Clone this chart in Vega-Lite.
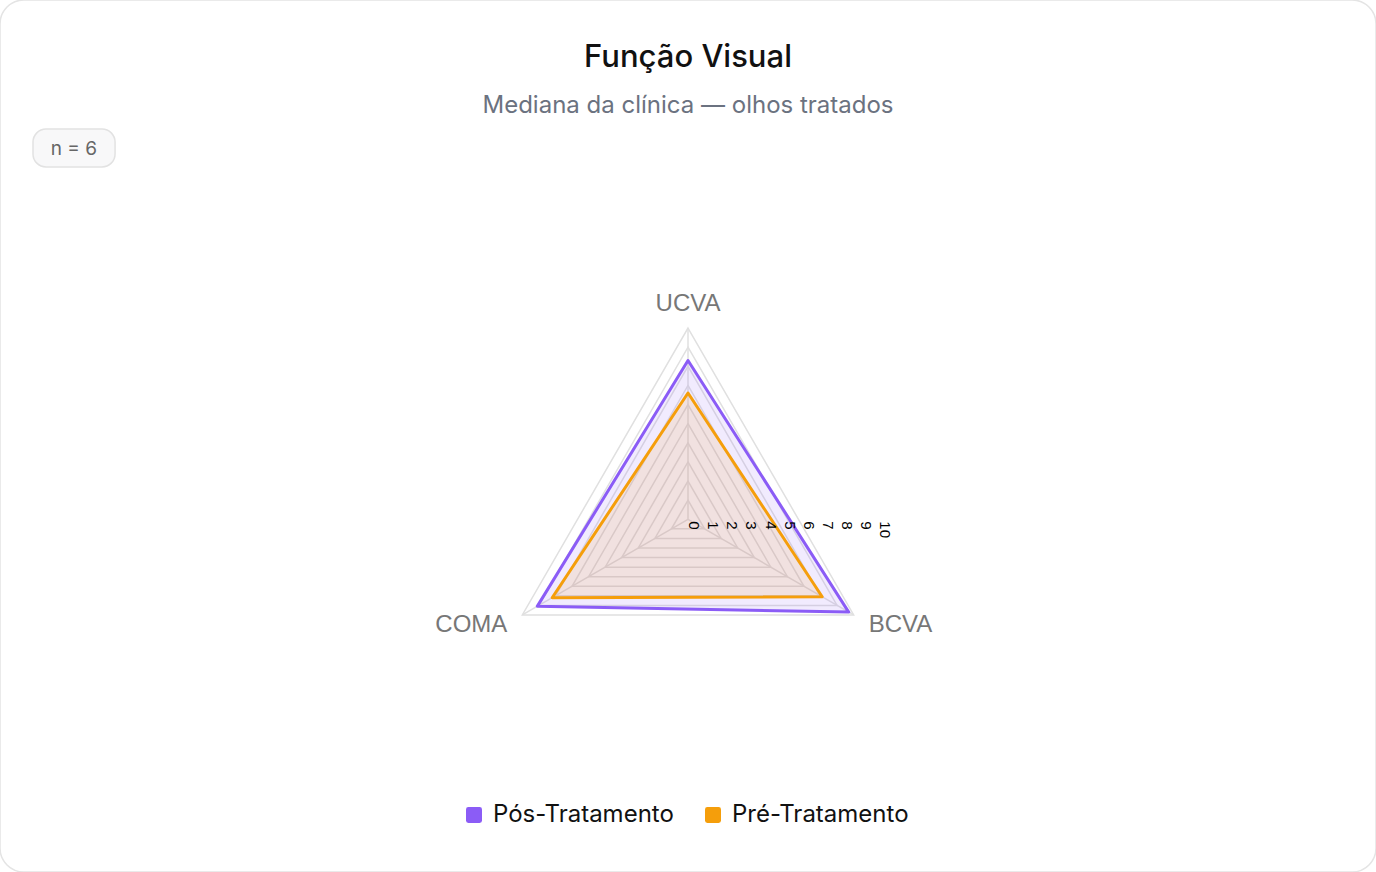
{
  "$schema": "https://vega.github.io/schema/vega-lite/v6.json",
  "description": "Radar chart of visual function, pre vs post treatment.",
  "width": 1376,
  "height": 872,
  "autosize": "none",
  "padding": 0,
  "background": "white",
  "view": {"stroke": "#e4e4e4", "strokeWidth": 1.5, "cornerRadius": 24, "fill": "white"},
  "title": {
    "text": "Função Visual",
    "subtitle": "Mediana da clínica — olhos tratados",
    "anchor": "middle",
    "frame": "group",
    "offset": -119,
    "font": "Inter",
    "fontSize": 31,
    "fontWeight": 500,
    "color": "#111111",
    "subtitleFont": "Inter",
    "subtitleFontSize": 24,
    "subtitleColor": "#6b7280",
    "subtitlePadding": 20
  },
  "datasets": {
    "radar": [
      {"series": "Pós-Tratamento", "axis": "UCVA", "value": 8.3},
      {"series": "Pós-Tratamento", "axis": "BCVA", "value": 9.7},
      {"series": "Pós-Tratamento", "axis": "COMA", "value": 9.1},
      {"series": "Pré-Tratamento", "axis": "UCVA", "value": 6.6},
      {"series": "Pré-Tratamento", "axis": "BCVA", "value": 8.1},
      {"series": "Pré-Tratamento", "axis": "COMA", "value": 8.2}
    ],
    "grid": [
      {"level": 1, "axis": "UCVA"}, {"level": 1, "axis": "BCVA"}, {"level": 1, "axis": "COMA"},
      {"level": 2, "axis": "UCVA"}, {"level": 2, "axis": "BCVA"}, {"level": 2, "axis": "COMA"},
      {"level": 3, "axis": "UCVA"}, {"level": 3, "axis": "BCVA"}, {"level": 3, "axis": "COMA"},
      {"level": 4, "axis": "UCVA"}, {"level": 4, "axis": "BCVA"}, {"level": 4, "axis": "COMA"},
      {"level": 5, "axis": "UCVA"}, {"level": 5, "axis": "BCVA"}, {"level": 5, "axis": "COMA"},
      {"level": 6, "axis": "UCVA"}, {"level": 6, "axis": "BCVA"}, {"level": 6, "axis": "COMA"},
      {"level": 7, "axis": "UCVA"}, {"level": 7, "axis": "BCVA"}, {"level": 7, "axis": "COMA"},
      {"level": 8, "axis": "UCVA"}, {"level": 8, "axis": "BCVA"}, {"level": 8, "axis": "COMA"},
      {"level": 9, "axis": "UCVA"}, {"level": 9, "axis": "BCVA"}, {"level": 9, "axis": "COMA"},
      {"level": 10, "axis": "UCVA"}, {"level": 10, "axis": "BCVA"}, {"level": 10, "axis": "COMA"}
    ],
    "ticks": [
      {"tick": 0}, {"tick": 1}, {"tick": 2}, {"tick": 3}, {"tick": 4}, {"tick": 5},
      {"tick": 6}, {"tick": 7}, {"tick": 8}, {"tick": 9}, {"tick": 10}
    ],
    "badge": [{"label": "n = 6"}]
  },
  "layer": [
    {
      "data": {"name": "grid"},
      "transform": [
        {"calculate": "indexof(['UCVA','BCVA','COMA'], datum.axis) * 2 * PI / 3", "as": "ang"},
        {"calculate": "datum.level * sin(datum.ang)", "as": "px"},
        {"calculate": "datum.level * cos(datum.ang)", "as": "py"}
      ],
      "mark": {"type": "line", "interpolate": "linear-closed", "stroke": "#e0e0e0", "strokeWidth": 1.5},
      "encoding": {
        "x": {"field": "px", "type": "quantitative", "scale": {"domain": [-35.965, 35.965], "nice": false, "zero": false}, "axis": null},
        "y": {"field": "py", "type": "quantitative", "scale": {"domain": [-18.437, 27.146], "nice": false, "zero": false}, "axis": null},
        "detail": {"field": "level", "type": "nominal"},
        "order": {"field": "ang", "type": "quantitative"}
      }
    },
    {
      "data": {"name": "grid"},
      "transform": [
        {"filter": "datum.level == 10"},
        {"calculate": "indexof(['UCVA','BCVA','COMA'], datum.axis) * 2 * PI / 3", "as": "ang"},
        {"calculate": "datum.level * sin(datum.ang)", "as": "px"},
        {"calculate": "datum.level * cos(datum.ang)", "as": "py"}
      ],
      "mark": {"type": "rule", "stroke": "#e0e0e0", "strokeWidth": 1.5},
      "encoding": {
        "x": {"field": "px", "type": "quantitative", "scale": {"domain": [-35.965, 35.965], "nice": false, "zero": false}, "axis": null},
        "y": {"field": "py", "type": "quantitative", "scale": {"domain": [-18.437, 27.146], "nice": false, "zero": false}, "axis": null},
        "x2": {"datum": 0},
        "y2": {"datum": 0}
      }
    },
    {
      "data": {"name": "radar"},
      "transform": [
        {"calculate": "indexof(['UCVA','BCVA','COMA'], datum.axis) * 2 * PI / 3", "as": "ang"},
        {"calculate": "datum.value * sin(datum.ang)", "as": "px"},
        {"calculate": "datum.value * cos(datum.ang)", "as": "py"}
      ],
      "mark": {"type": "line", "interpolate": "linear-closed", "strokeWidth": 3, "fillOpacity": 0.12, "strokeJoin": "round"},
      "encoding": {
        "x": {"field": "px", "type": "quantitative", "scale": {"domain": [-35.965, 35.965], "nice": false, "zero": false}, "axis": null},
        "y": {"field": "py", "type": "quantitative", "scale": {"domain": [-18.437, 27.146], "nice": false, "zero": false}, "axis": null},
        "order": {"field": "ang", "type": "quantitative"},
        "color": {
          "field": "series",
          "type": "nominal",
          "scale": {"domain": ["Pós-Tratamento", "Pré-Tratamento"], "range": ["#8b5cf6", "#f59e0b"]},
          "legend": {
            "orient": "none",
            "direction": "horizontal",
            "legendX": 462,
            "legendY": 803,
            "title": null,
            "padding": 0,
            "symbolType": "M-0.7,-1H0.7Q1,-1,1,-0.7V0.7Q1,1,0.7,1H-0.7Q-1,1,-1,0.7V-0.7Q-1,-1,-0.7,-1Z",
            "symbolSize": 256,
            "symbolStrokeWidth": 0,
            "labelFont": "Inter",
            "labelFontSize": 24,
            "labelColor": "#111111",
            "labelLimit": 0,
            "labelOffset": 7,
            "columnPadding": 27,
            "encode": {
              "symbols": {"update": {"fill": {"scale": "color", "field": "value"}, "fillOpacity": {"value": 1}, "strokeWidth": {"value": 0}}}
            }
          }
        },
        "fill": {
          "field": "series",
          "type": "nominal",
          "scale": {"domain": ["Pós-Tratamento", "Pré-Tratamento"], "range": ["#8b5cf6", "#f59e0b"]},
          "legend": null
        }
      }
    },
    {
      "data": {"name": "ticks"},
      "mark": {"type": "text", "angle": 90, "align": "left", "baseline": "middle", "font": "Liberation Sans", "fontSize": 15, "color": "#000000"},
      "encoding": {
        "x": {"field": "tick", "type": "quantitative", "scale": {"domain": [-35.965, 35.965], "nice": false, "zero": false}, "axis": null},
        "y": {"datum": 0, "scale": {"domain": [-18.437, 27.146], "nice": false, "zero": false}, "axis": null},
        "xOffset": {"value": 6},
        "yOffset": {"value": 2},
        "text": {"field": "tick", "type": "nominal"}
      }
    },
    {
      "data": {"name": "grid"},
      "transform": [
        {"filter": "datum.level == 10"},
        {"calculate": "indexof(['UCVA','BCVA','COMA'], datum.axis) * 2 * PI / 3", "as": "ang"},
        {"calculate": "datum.level * sin(datum.ang)", "as": "px"},
        {"calculate": "datum.level * cos(datum.ang)", "as": "py"}
      ],
      "mark": {
        "type": "text",
        "font": "Liberation Sans",
        "fontSize": 24,
        "color": "#777777",
        "baseline": "middle",
        "align": {"expr": "datum.axis == 'UCVA' ? 'center' : datum.axis == 'BCVA' ? 'left' : 'right'"},
        "dx": {"expr": "datum.axis == 'UCVA' ? 0 : datum.axis == 'BCVA' ? 15 : -15"},
        "dy": {"expr": "datum.axis == 'UCVA' ? -24 : 10"}
      },
      "encoding": {
        "x": {"field": "px", "type": "quantitative", "scale": {"domain": [-35.965, 35.965], "nice": false, "zero": false}, "axis": null},
        "y": {"field": "py", "type": "quantitative", "scale": {"domain": [-18.437, 27.146], "nice": false, "zero": false}, "axis": null},
        "text": {"field": "axis", "type": "nominal"}
      }
    },
    {
      "data": {"name": "badge"},
      "mark": {"type": "rect", "cornerRadius": 13, "fill": "#f8f8f9", "stroke": "#e2e2e2", "strokeWidth": 1.5},
      "encoding": {
        "x": {"datum": -34.24, "type": "quantitative", "scale": {"domain": [-35.965, 35.965], "nice": false, "zero": false}, "axis": null},
        "x2": {"datum": -29.95},
        "y": {"datum": 20.4, "type": "quantitative", "scale": {"domain": [-18.437, 27.146], "nice": false, "zero": false}, "axis": null},
        "y2": {"datum": 18.42}
      }
    },
    {
      "data": {"name": "badge"},
      "mark": {"type": "text", "font": "Inter", "fontSize": 19, "color": "#666666", "align": "center", "baseline": "middle"},
      "encoding": {
        "x": {"datum": -32.1, "type": "quantitative", "scale": {"domain": [-35.965, 35.965], "nice": false, "zero": false}, "axis": null},
        "y": {"datum": 19.36, "type": "quantitative", "scale": {"domain": [-18.437, 27.146], "nice": false, "zero": false}, "axis": null},
        "text": {"field": "label", "type": "nominal"}
      }
    }
  ]
}
